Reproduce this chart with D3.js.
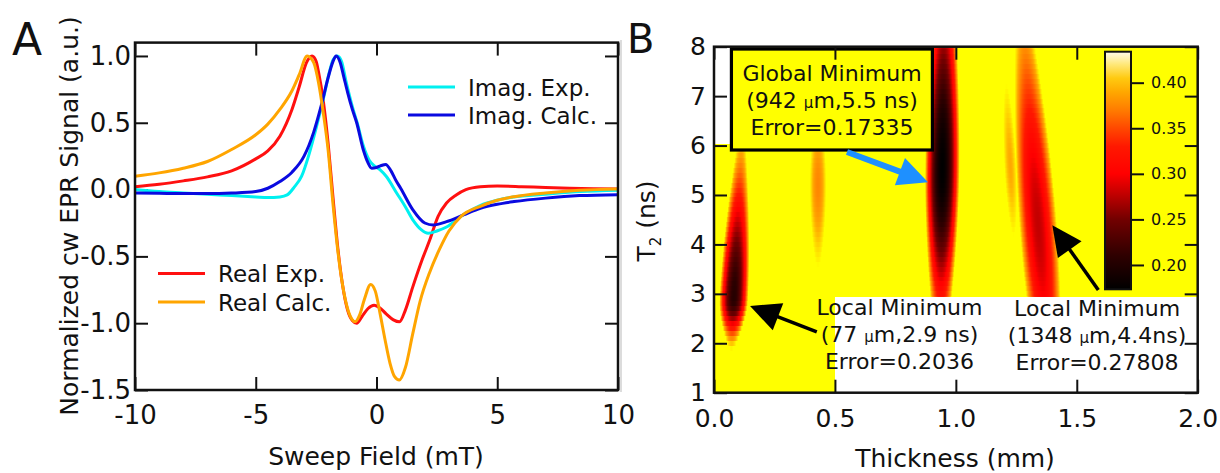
<!DOCTYPE html>
<html>
<head>
<meta charset="utf-8">
<script src="https://cdn.jsdelivr.net/npm/d3@7"></script>
<style>
body { margin: 0; background: #fff; }
svg text { font-family: "DejaVu Sans", sans-serif; fill: #111; }
</style>
</head>
<body>
<svg id="chart" width="1220" height="473"></svg>
<script>
// ---- Panel A: normalized cw EPR spectra (field in mT, signal in a.u.)
var realExpField = [-10,-9,-8,-7,-6,-5,-4.5,-4,-3.5,-3.2,-2.9,-2.67,-2.5,-2.4,-2.2,-2.0,-1.8,-1.6,-1.4,-1.2,-1.0,-0.82,-0.6,-0.35,-0.1,0.1,0.4,0.7,0.95,1.2,1.5,1.9,2.2,2.55,2.9,3.3,3.7,4.3,5,6,7,8,9,10];
var realExpSignal = [0.022,0.04,0.065,0.095,0.14,0.23,0.29,0.40,0.60,0.77,0.95,1.0,0.96,0.88,0.66,0.34,-0.06,-0.44,-0.72,-0.90,-0.98,-1.0,-0.95,-0.89,-0.865,-0.88,-0.93,-0.975,-0.99,-0.90,-0.73,-0.52,-0.38,-0.20,-0.10,-0.04,0.0,0.022,0.027,0.022,0.015,0.01,0.007,0.005];

var realCalcField = [-10,-9,-8,-7,-6,-5,-4.5,-4,-3.5,-3.2,-2.87,-2.6,-2.4,-2.2,-2.0,-1.8,-1.6,-1.4,-1.2,-1.0,-0.89,-0.7,-0.5,-0.24,-0.05,0.15,0.35,0.56,0.75,0.945,1.2,1.5,1.8,2.2,2.6,3.0,3.5,4.3,5,5.7,7,8.4,10];
var realCalcSignal = [0.10,0.125,0.16,0.21,0.30,0.41,0.49,0.60,0.74,0.86,1.0,0.95,0.80,0.57,0.29,-0.11,-0.46,-0.72,-0.89,-0.975,-0.99,-0.94,-0.82,-0.71,-0.76,-0.93,-1.12,-1.30,-1.40,-1.425,-1.33,-1.08,-0.84,-0.62,-0.45,-0.31,-0.20,-0.125,-0.08,-0.053,-0.025,-0.005,0.005];

var imagExpField = [-10,-9,-8,-7,-6,-5,-4.5,-4,-3.7,-3.4,-3.1,-2.8,-2.5,-2.2,-1.95,-1.8,-1.62,-1.45,-1.25,-1.0,-0.8,-0.55,-0.3,-0.1,0.14,0.4,0.84,1.2,1.52,1.85,2.14,2.5,2.9,3.58,4.29,5,5.66,7,8.43,10];
var imagExpSignal = [0.0,-0.015,-0.025,-0.035,-0.045,-0.055,-0.06,-0.055,-0.04,0.02,0.1,0.26,0.46,0.68,0.88,0.97,1.0,0.96,0.80,0.62,0.50,0.33,0.22,0.18,0.15,0.10,-0.027,-0.13,-0.23,-0.30,-0.327,-0.31,-0.28,-0.19,-0.12,-0.08,-0.056,-0.035,-0.015,-0.005];

var imagCalcField = [-10,-9,-8,-7,-6,-5,-4.5,-4,-3.5,-3.0,-2.6,-2.3,-2.0,-1.8,-1.67,-1.5,-1.35,-1.2,-1.0,-0.82,-0.55,-0.35,-0.2,0.0,0.2,0.38,0.6,0.8,1.0,1.5,2.0,2.35,2.9,3.6,4.3,5,5.7,7,8.4,10];
var imagCalcSignal = [-0.026,-0.028,-0.03,-0.03,-0.026,-0.015,0.01,0.06,0.13,0.25,0.43,0.62,0.84,0.96,1.0,0.95,0.84,0.73,0.60,0.50,0.30,0.20,0.16,0.165,0.18,0.188,0.14,0.07,0.01,-0.15,-0.25,-0.265,-0.24,-0.19,-0.14,-0.11,-0.09,-0.064,-0.045,-0.038];

var fieldTicks = [-10, -5, 0, 5, 10];
var signalTicks = [-1.5, -1.0, -0.5, 0.0, 0.5, 1.0];

// ---- Panel B: fit error map (thickness in mm, T2 in ns), one entry per valley
var valleyThickness = [0.082, 0.43, 0.944, 1.34, 1.225];
var valleyT2 = [2.9, 5.2, 5.5, 4.4, 5.6];
var valleyError = [0.2036, 0.375, 0.17335, 0.27808, 0.39];
var valleyHalfWidth = [0.058, 0.03, 0.07, 0.075, 0.02];
var valleyUp = [2.6, 1.8, 4.0, 4.0, 2.2];
var valleyDown = [0.75, 1.9, 3.0, 4.0, 1.9];
var valleyTilt = [0.01, 0, 0.002, -0.015, -0.01];
var blankThickness = [[0, 0.072], [0.5, 2.0]];
var blankT2 = [[6.03, 8], [1, 2.94]];

var thicknessTicks = [0.0, 0.5, 1.0, 1.5, 2.0];
var t2Ticks = [1, 2, 3, 4, 5, 6, 7, 8];
var errorTicks = [0.20, 0.25, 0.30, 0.35, 0.40];
var errorStops = [0.1733, 0.21, 0.25, 0.28, 0.30, 0.33, 0.35, 0.37, 0.39, 0.405, 0.42, 0.434];
var errorColors = ["#000000","#2e0000","#720000","#c80000","#ff0000","#ff1800","#ff4800","#ff7c00","#ffa800","#ffca10","#ffe878","#fffcec"];

var svg = d3.select("#chart");

// ---------------- panel A
var xA = d3.scaleLinear().domain([-10, 10]).range([135, 618]);
var yA = d3.scaleLinear().domain([-1.5, 1.1]).range([390, 42.6]);

function styleAxis(g, size) {
    g.select(".domain").remove();
    g.selectAll(".tick line").attr("stroke", "#111").attr("stroke-width", 2);
    g.selectAll(".tick text").attr("font-size", size).attr("fill", "#111");
}

svg.append("g").attr("transform", "translate(135,0)")
    .call(d3.axisLeft(yA).tickValues(signalTicks).tickSize(-13).tickPadding(4).tickFormat(d => d.toFixed(1)))
    .call(styleAxis, 26);
svg.append("g").attr("transform", "translate(618,0)")
    .call(d3.axisRight(yA).tickValues(signalTicks).tickSize(-13).tickFormat(""))
    .call(styleAxis, 26);
svg.append("g").attr("transform", "translate(0,390)")
    .call(d3.axisBottom(xA).tickValues(fieldTicks).tickSize(-13).tickPadding(15.5).tickFormat(d => String(d)))
    .call(styleAxis, 26);
svg.append("g").attr("transform", "translate(0,42.6)")
    .call(d3.axisTop(xA).tickValues(fieldTicks).tickSize(-13).tickFormat(""))
    .call(styleAxis, 26);

var lineA = d3.line().curve(d3.curveMonotoneX);
var spectra = [
    {field: realExpField, signal: realExpSignal, color: "#ff1010"},
    {field: realCalcField, signal: realCalcSignal, color: "#ffa500"},
    {field: imagExpField, signal: imagExpSignal, color: "#00f0f0"},
    {field: imagCalcField, signal: imagCalcSignal, color: "#0a0ae0"}
];
// draw order: calc on top of exp like the original
[spectra[0], spectra[2], spectra[3], spectra[1]].forEach(function(s) {
    svg.append("path")
        .attr("d", lineA(s.field.map((f, i) => [xA(f), yA(s.signal[i])])))
        .attr("fill", "none")
        .attr("stroke", s.color)
        .attr("stroke-width", 3)
        .attr("stroke-linejoin", "round");
});

svg.append("rect")
    .attr("x", 135).attr("y", 42.6).attr("width", 483).attr("height", 347.4)
    .attr("fill", "none").attr("stroke", "#111").attr("stroke-width", 2.5);

// legends
var legends = [
    {x: 408, y: 87, label: "Imag. Exp.", color: "#00f0f0"},
    {x: 408, y: 115, label: "Imag. Calc.", color: "#0a0ae0"},
    {x: 158, y: 273.5, label: "Real Exp.", color: "#ff1010"},
    {x: 158, y: 302, label: "Real Calc.", color: "#ffa500"}
];
legends.forEach(function(l) {
    svg.append("line").attr("x1", l.x).attr("x2", l.x + 47).attr("y1", l.y).attr("y2", l.y)
        .attr("stroke", l.color).attr("stroke-width", 3);
    svg.append("text").attr("x", l.x + 60).attr("y", l.y + 8.5)
        .attr("font-size", 23).text(l.label);
});

svg.append("text").attr("x", 12).attr("y", 55).attr("font-size", 44).text("A");
svg.append("text")
    .attr("transform", "translate(78,216) rotate(-90)")
    .attr("text-anchor", "middle").attr("font-size", 25)
    .text("Normalized cw EPR Signal (a.u.)");
svg.append("text").attr("x", 376).attr("y", 465)
    .attr("text-anchor", "middle").attr("font-size", 25).text("Sweep Field (mT)");

// separator
svg.append("line").attr("x1", 621).attr("x2", 621).attr("y1", 40).attr("y2", 392)
    .attr("stroke", "#d0d0d0").attr("stroke-width", 1.5);

// ---------------- panel B
var xB = d3.scaleLinear().domain([0, 2]).range([714, 1197.7]);
var yB = d3.scaleLinear().domain([1, 8]).range([392.7, 46.7]);
// the map itself saturates to plain yellow above 0.42
var mapStops = errorStops.slice(0, 10).concat([0.42]);
var mapColors = errorColors.slice(0, 9).concat(["#ffd800", "#ffff00"]);
var mapColor = d3.scaleLinear().domain(mapStops).range(mapColors).clamp(true);

function errorAt(x, t) {
    var e = 0.46;
    valleyThickness.forEach(function(xc, i) {
        var dt = t - valleyT2[i];
        var st = dt > 0 ? valleyUp[i] : valleyDown[i];
        var dx = (x - (xc + valleyTilt[i] * dt)) / valleyHalfWidth[i];
        var m = valleyError[i];
        var v = m + (0.46 - m) * (1 - Math.exp(-(dt / st) * (dt / st))) + (0.41 - m) * dx * dx;
        if (v < e) e = v;
    });
    return e;
}

function isBlank(x, t) {
    for (var k = 0; k < blankThickness.length; k++) {
        if (x >= blankThickness[k][0] && x <= blankThickness[k][1] && t >= blankT2[k][0] && t <= blankT2[k][1]) return true;
    }
    return false;
}

var px0 = Math.round(xB(0)), px1 = Math.round(xB(2));
var py0 = Math.round(yB(8)), py1 = Math.round(yB(1));
var cw = px1 - px0, ch = py1 - py0;
var canvas = document.createElement("canvas");
canvas.width = cw; canvas.height = ch;
var ctx = canvas.getContext("2d");
var image = ctx.createImageData(cw, ch);
for (var j = 0; j < ch; j++) {
    var t = yB.invert(py0 + j + 0.5);
    var tq = Math.round(t * 10) / 10;
    for (var i = 0; i < cw; i++) {
        var x = xB.invert(px0 + i + 0.5);
        var c = isBlank(x, t) ? {r: 255, g: 255, b: 255} : d3.rgb(mapColor(errorAt(x, tq)));
        var p = (j * cw + i) * 4;
        image.data[p] = c.r; image.data[p + 1] = c.g; image.data[p + 2] = c.b; image.data[p + 3] = 255;
    }
}
ctx.putImageData(image, 0, 0);
svg.append("image")
    .attr("x", px0).attr("y", py0).attr("width", cw).attr("height", ch)
    .attr("preserveAspectRatio", "none")
    .attr("href", canvas.toDataURL());

// colour bar
var yC = d3.scaleLinear().domain([0.1733, 0.434]).range([289.3, 51.7]);
var grad = svg.append("defs").append("linearGradient").attr("id", "errGrad")
    .attr("x1", 0).attr("y1", 1).attr("x2", 0).attr("y2", 0);
errorStops.forEach(function(v, i) {
    grad.append("stop").attr("offset", (v - 0.1733) / (0.434 - 0.1733)).attr("stop-color", errorColors[i]);
});
svg.append("rect").attr("x", 1105).attr("y", yC(0.434)).attr("width", 26).attr("height", yC(0.1733) - yC(0.434))
    .attr("fill", "url(#errGrad)").attr("stroke", "#111").attr("stroke-width", 2);
svg.append("g").attr("transform", "translate(1131,0)")
    .call(d3.axisRight(yC).tickValues(errorTicks).tickSize(13).tickPadding(7).tickFormat(d => d.toFixed(2)))
    .call(styleAxis, 16);

// annotations
function addArrow(tail, tip, color, width) {
    var x1 = xB(tail[0]), y1 = yB(tail[1]), x2 = xB(tip[0]), y2 = yB(tip[1]);
    var dx = x2 - x1, dy = y2 - y1, len = Math.sqrt(dx * dx + dy * dy);
    var ux = dx / len, uy = dy / len, L = 30, W = 14.5;
    var bx = x2 - ux * L, by = y2 - uy * L;
    svg.append("line").attr("x1", x1).attr("y1", y1).attr("x2", bx + ux * 2).attr("y2", by + uy * 2)
        .attr("stroke", color).attr("stroke-width", width);
    svg.append("path")
        .attr("d", "M" + x2 + "," + y2 + "L" + (bx - uy * W) + "," + (by + ux * W) + "L" + (bx + uy * W) + "," + (by - ux * W) + "Z")
        .attr("fill", color);
}

function addNote(x, t, lines) {
    var g = svg.append("g");
    lines.forEach(function(line, k) {
        var txt = g.append("text").attr("x", xB(x)).attr("y", yB(t) + k * 27)
            .attr("text-anchor", "middle").attr("font-size", 22);
        var parts = line.split("µ");
        txt.append("tspan").text(parts[0]);
        if (parts.length > 1) {
            txt.append("tspan").attr("font-size", 15).text("µ");
            txt.append("tspan").text(parts[1]);
        }
    });
}

svg.append("rect")
    .attr("x", xB(0.072)).attr("y", yB(7.953))
    .attr("width", xB(0.903) - xB(0.072)).attr("height", yB(5.91) - yB(7.953))
    .attr("fill", "#ffff00").attr("stroke", "#000").attr("stroke-width", 3.2);
addNote(0.488, 7.306, ["Global Minimum", "(942 µm,5.5 ns)", "Error=0.17335"]);
addNote(0.767, 2.572, ["Local Minimum", "(77 µm,2.9 ns)", "Error=0.2036"]);
addNote(1.584, 2.542, ["Local Minimum", "(1348 µm,4.4ns)", "Error=0.27808"]);

addArrow([0.55, 5.87], [0.885, 5.26], "#1e90ff", 6);
addArrow([0.425, 2.23], [0.149, 2.755], "#000", 3.5);
addArrow([1.589, 3.08], [1.399, 4.39], "#000", 3.5);

// axes B
svg.append("g").attr("transform", "translate(714,0)")
    .call(d3.axisLeft(yB).tickValues(t2Ticks).tickSize(-13).tickPadding(8).tickFormat(d => String(d)))
    .call(styleAxis, 25);
svg.append("g").attr("transform", "translate(1197.7,0)")
    .call(d3.axisRight(yB).tickValues(t2Ticks).tickSize(-13).tickFormat(""))
    .call(styleAxis, 25);
svg.append("g").attr("transform", "translate(0,392.7)")
    .call(d3.axisBottom(xB).tickValues(thicknessTicks).tickSize(-13).tickPadding(17).tickFormat(d => d.toFixed(1)))
    .call(styleAxis, 25);
svg.append("g").attr("transform", "translate(0,46.7)")
    .call(d3.axisTop(xB).tickValues(thicknessTicks).tickSize(-13).tickFormat(""))
    .call(styleAxis, 25);
svg.append("rect")
    .attr("x", 714).attr("y", 46.7).attr("width", 483.7).attr("height", 346)
    .attr("fill", "none").attr("stroke", "#111").attr("stroke-width", 2.5);

svg.append("text").attr("x", 627).attr("y", 53).attr("font-size", 40).text("B");
var t2Label = svg.append("text")
    .attr("transform", "translate(655,221) rotate(-90)")
    .attr("text-anchor", "middle").attr("font-size", 25);
t2Label.append("tspan").text("T");
t2Label.append("tspan").attr("font-size", 15).attr("dy", 6).text("2");
t2Label.append("tspan").attr("dy", -6).text(" (ns)");
svg.append("text").attr("x", 955).attr("y", 467)
    .attr("text-anchor", "middle").attr("font-size", 25).text("Thickness (mm)");
</script>
</body>
</html>
